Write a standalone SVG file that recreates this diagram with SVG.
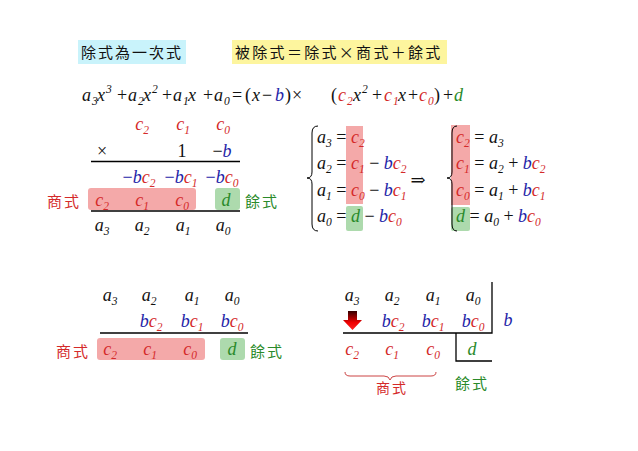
<svg xmlns="http://www.w3.org/2000/svg" width="638" height="451" viewBox="0 0 638 451">
<defs>
<style>
text{font-family:"Liberation Serif","Times New Roman","DejaVu Serif",serif;font-size:18px;fill:#111}
.m{font-style:italic}
.u{font-style:normal}
.s{font-size:11.5px}
.r{fill:#d42a2a}
.b{fill:#2424a8}
.g{fill:#2a8a2a}
.cjk{font-family:"Noto Sans CJK TC","Noto Sans CJK SC",sans-serif;font-size:15px;letter-spacing:2px;font-style:normal}
.ln{stroke:#000;stroke-width:1.3;fill:none}
.rb{fill:#f29a9a;opacity:0.85}
.gb{fill:#9fd49f;opacity:0.85}
</style>
<linearGradient id="ag" x1="0" y1="0" x2="0" y2="1">
<stop offset="0" stop-color="#300"/>
<stop offset="0.6" stop-color="#e00"/>
<stop offset="1" stop-color="#f22"/>
</linearGradient>
</defs>
<rect width="638" height="451" fill="#fff"/>

<g id="title1">
<rect x="78" y="40" width="108" height="24" fill="#c9f3fb"/>
<text x="81" y="58" class="cjk">除式為一次式</text>
</g>
<g id="title2">
<rect x="232" y="40" width="215" height="24" fill="#fdf59e"/>
<text x="235" y="58" class="cjk" style="letter-spacing:2.3px">被除式＝除式×商式＋餘式</text>
</g>

<g id="equation">
<text y="101" class="m"><tspan x="82">a</tspan><tspan x="92" class="s" dy="4">3</tspan><tspan x="97" dy="-4">x</tspan><tspan x="106" class="s" dy="-8">3</tspan><tspan x="117" class="u" dy="8">+</tspan><tspan x="128">a</tspan><tspan x="138" class="s" dy="4">2</tspan><tspan x="143" dy="-4">x</tspan><tspan x="152" class="s" dy="-8">2</tspan><tspan x="162" class="u" dy="8">+</tspan><tspan x="173">a</tspan><tspan x="183" class="s" dy="4">1</tspan><tspan x="188" dy="-4">x</tspan><tspan x="203" class="u">+</tspan><tspan x="214">a</tspan><tspan x="224" class="s" dy="4">0</tspan><tspan x="232" class="u" dy="-4">=</tspan><tspan x="245" class="u">(</tspan><tspan x="252">x</tspan><tspan x="262" class="u">−</tspan><tspan x="275" class="b">b</tspan><tspan x="285" class="u">)</tspan><tspan x="292" class="u">×</tspan><tspan x="331" class="u">(</tspan><tspan x="338" class="r">c</tspan><tspan x="347" class="s r" dy="4">2</tspan><tspan x="353" dy="-4">x</tspan><tspan x="362" class="s" dy="-8">2</tspan><tspan x="372" class="u" dy="8">+</tspan><tspan x="384" class="r">c</tspan><tspan x="393" class="s r" dy="4">1</tspan><tspan x="398" dy="-4">x</tspan><tspan x="408" class="u">+</tspan><tspan x="419" class="r">c</tspan><tspan x="428" class="s r" dy="4">0</tspan><tspan x="434" class="u" dy="-4">)</tspan><tspan x="443" class="u">+</tspan><tspan x="454" class="g">d</tspan></text>
</g>

<g id="mult">
<text x="142" y="130" class="m r" text-anchor="middle">c<tspan class="s" dy="4">2</tspan></text>
<text x="183" y="130" class="m r" text-anchor="middle">c<tspan class="s" dy="4">1</tspan></text>
<text x="223" y="130" class="m r" text-anchor="middle">c<tspan class="s" dy="4">0</tspan></text>
<text x="102" y="157" class="u" text-anchor="middle">×</text>
<text x="182" y="157" class="u" text-anchor="middle">1</text>
<text x="222" y="157" class="u" text-anchor="middle">−<tspan class="m b">b</tspan></text>
<line x1="91" y1="161.5" x2="240" y2="161.5" class="ln"/>
<text x="139" y="183" class="m b" text-anchor="middle"><tspan class="u">−</tspan>b<tspan class="r">c</tspan><tspan class="s r" dy="4">2</tspan></text>
<text x="181" y="183" class="m b" text-anchor="middle"><tspan class="u">−</tspan>b<tspan class="r">c</tspan><tspan class="s r" dy="4">1</tspan></text>
<text x="222" y="183" class="m b" text-anchor="middle"><tspan class="u">−</tspan>b<tspan class="r">c</tspan><tspan class="s r" dy="4">0</tspan></text>
<text x="47" y="207" class="cjk r">商式</text>
<rect x="88" y="188" width="108" height="22" rx="3" class="rb"/>
<rect x="215" y="188" width="25" height="22" rx="3" class="gb"/>
<text x="102" y="206" class="m r" text-anchor="middle">c<tspan class="s" dy="4">2</tspan></text>
<text x="142" y="206" class="m r" text-anchor="middle">c<tspan class="s" dy="4">1</tspan></text>
<text x="182" y="206" class="m r" text-anchor="middle">c<tspan class="s" dy="4">0</tspan></text>
<text x="226" y="206" class="m g" text-anchor="middle">d</text>
<text x="245" y="207" class="cjk g">餘式</text>
<line x1="91" y1="211" x2="240" y2="211" class="ln"/>
<text x="102" y="231" class="m" text-anchor="middle">a<tspan class="s" dy="4">3</tspan></text>
<text x="142" y="231" class="m" text-anchor="middle">a<tspan class="s" dy="4">2</tspan></text>
<text x="183" y="231" class="m" text-anchor="middle">a<tspan class="s" dy="4">1</tspan></text>
<text x="223" y="231" class="m" text-anchor="middle">a<tspan class="s" dy="4">0</tspan></text>
</g>

<g id="system1">
<path class="ln" style="stroke-width:1" d="M318,126 Q312,126 312,133 L312,172 Q312,178 307,178 Q312,178 312,184 L312,224 Q312,231 318,231"/>
<rect x="346" y="126" width="17" height="78" class="rb"/>
<rect x="346" y="206" width="17" height="25" rx="2" class="gb"/>
<text x="317" y="143" class="m">a<tspan class="s" dy="4">3</tspan><tspan class="u" dy="-4"> = </tspan><tspan class="r">c</tspan><tspan class="s r" dy="4">2</tspan></text>
<text x="317" y="169" class="m">a<tspan class="s" dy="4">2</tspan><tspan class="u" dy="-4"> = </tspan><tspan class="r">c</tspan><tspan class="s r" dy="4">1</tspan><tspan class="u" dy="-4"> − </tspan><tspan class="b">b</tspan><tspan class="r">c</tspan><tspan class="s r" dy="4">2</tspan></text>
<text x="317" y="196" class="m">a<tspan class="s" dy="4">1</tspan><tspan class="u" dy="-4"> = </tspan><tspan class="r">c</tspan><tspan class="s r" dy="4">0</tspan><tspan class="u" dy="-4"> − </tspan><tspan class="b">b</tspan><tspan class="r">c</tspan><tspan class="s r" dy="4">1</tspan></text>
<text x="317" y="222" class="m">a<tspan class="s" dy="4">0</tspan><tspan class="u" dy="-4"> = </tspan><tspan class="g">d</tspan><tspan class="u"> − </tspan><tspan class="b">b</tspan><tspan class="r">c</tspan><tspan class="s r" dy="4">0</tspan></text>
</g>

<g id="implies">
<text x="418" y="186" class="u" text-anchor="middle">⇒</text>
</g>

<g id="system2">
<rect x="451" y="125" width="19" height="80" class="rb"/>
<rect x="451" y="207" width="19" height="24" rx="2" class="gb"/>
<path class="ln" style="stroke-width:1" d="M457,126 Q452,126 452,133 L452,172 Q452,178 447,178 Q452,178 452,184 L452,224 Q452,231 457,231"/>
<text x="456" y="143" class="m"><tspan class="r">c</tspan><tspan class="s r" dy="4">2</tspan><tspan class="u" dy="-4"> = </tspan>a<tspan class="s" dy="4">3</tspan></text>
<text x="456" y="169" class="m"><tspan class="r">c</tspan><tspan class="s r" dy="4">1</tspan><tspan class="u" dy="-4"> = </tspan>a<tspan class="s" dy="4">2</tspan><tspan class="u" dy="-4"> + </tspan><tspan class="b">b</tspan><tspan class="r">c</tspan><tspan class="s r" dy="4">2</tspan></text>
<text x="456" y="196" class="m"><tspan class="r">c</tspan><tspan class="s r" dy="4">0</tspan><tspan class="u" dy="-4"> = </tspan>a<tspan class="s" dy="4">1</tspan><tspan class="u" dy="-4"> + </tspan><tspan class="b">b</tspan><tspan class="r">c</tspan><tspan class="s r" dy="4">1</tspan></text>
<text x="456" y="222" class="m"><tspan class="g">d</tspan><tspan class="u"> = </tspan>a<tspan class="s" dy="4">0</tspan><tspan class="u" dy="-4"> + </tspan><tspan class="b">b</tspan><tspan class="r">c</tspan><tspan class="s r" dy="4">0</tspan></text>
</g>

<g id="synth1">
<text x="110" y="301" class="m" text-anchor="middle">a<tspan class="s" dy="4">3</tspan></text>
<text x="149" y="301" class="m" text-anchor="middle">a<tspan class="s" dy="4">2</tspan></text>
<text x="192" y="301" class="m" text-anchor="middle">a<tspan class="s" dy="4">1</tspan></text>
<text x="232" y="301" class="m" text-anchor="middle">a<tspan class="s" dy="4">0</tspan></text>
<text x="151" y="327" class="m b" text-anchor="middle">b<tspan class="r">c</tspan><tspan class="s r" dy="4">2</tspan></text>
<text x="192" y="327" class="m b" text-anchor="middle">b<tspan class="r">c</tspan><tspan class="s r" dy="4">1</tspan></text>
<text x="232" y="327" class="m b" text-anchor="middle">b<tspan class="r">c</tspan><tspan class="s r" dy="4">0</tspan></text>
<line x1="100" y1="333" x2="248" y2="333" class="ln"/>
<text x="56" y="357" class="cjk r">商式</text>
<rect x="97" y="338" width="108" height="22" rx="3" class="rb"/>
<rect x="220" y="338" width="25" height="22" rx="3" class="gb"/>
<text x="110" y="355" class="m r" text-anchor="middle">c<tspan class="s" dy="4">2</tspan></text>
<text x="150" y="355" class="m r" text-anchor="middle">c<tspan class="s" dy="4">1</tspan></text>
<text x="190" y="355" class="m r" text-anchor="middle">c<tspan class="s" dy="4">0</tspan></text>
<text x="232" y="355" class="m g" text-anchor="middle">d</text>
<text x="250" y="357" class="cjk g">餘式</text>
</g>

<g id="synth2">
<text x="352" y="301" class="m" text-anchor="middle">a<tspan class="s" dy="4">3</tspan></text>
<text x="392" y="301" class="m" text-anchor="middle">a<tspan class="s" dy="4">2</tspan></text>
<text x="433" y="301" class="m" text-anchor="middle">a<tspan class="s" dy="4">1</tspan></text>
<text x="473" y="301" class="m" text-anchor="middle">a<tspan class="s" dy="4">0</tspan></text>
<path d="M348,311 L357,311 L357,320 L362,320 L352.5,330 L343,320 L348,320 Z" fill="url(#ag)"/>
<text x="393" y="327" class="m b" text-anchor="middle">b<tspan class="r">c</tspan><tspan class="s r" dy="4">2</tspan></text>
<text x="433" y="327" class="m b" text-anchor="middle">b<tspan class="r">c</tspan><tspan class="s r" dy="4">1</tspan></text>
<text x="473" y="327" class="m b" text-anchor="middle">b<tspan class="r">c</tspan><tspan class="s r" dy="4">0</tspan></text>
<text x="508" y="326" class="m b" text-anchor="middle">b</text>
<text x="352" y="355" class="m r" text-anchor="middle">c<tspan class="s" dy="4">2</tspan></text>
<text x="392" y="355" class="m r" text-anchor="middle">c<tspan class="s" dy="4">1</tspan></text>
<text x="433" y="355" class="m r" text-anchor="middle">c<tspan class="s" dy="4">0</tspan></text>
<text x="472" y="355" class="m g" text-anchor="middle">d</text>
<path d="M345,372 Q345,376 350,376 L384,376 Q389,376 390,380 Q391,376 396,376 L431,376 Q436,376 436,372" fill="none" stroke="#c44" stroke-width="1"/>
<text x="376" y="393" class="cjk r" style="font-size:14px">商式</text>
<text x="455" y="389" class="cjk g">餘式</text>
</g>

<g id="connectors">
<path d="M492,282 L492,333 L343,333" class="ln"/>
<path d="M456,333 L456,361 L492,361" class="ln"/>
</g>
</svg>
